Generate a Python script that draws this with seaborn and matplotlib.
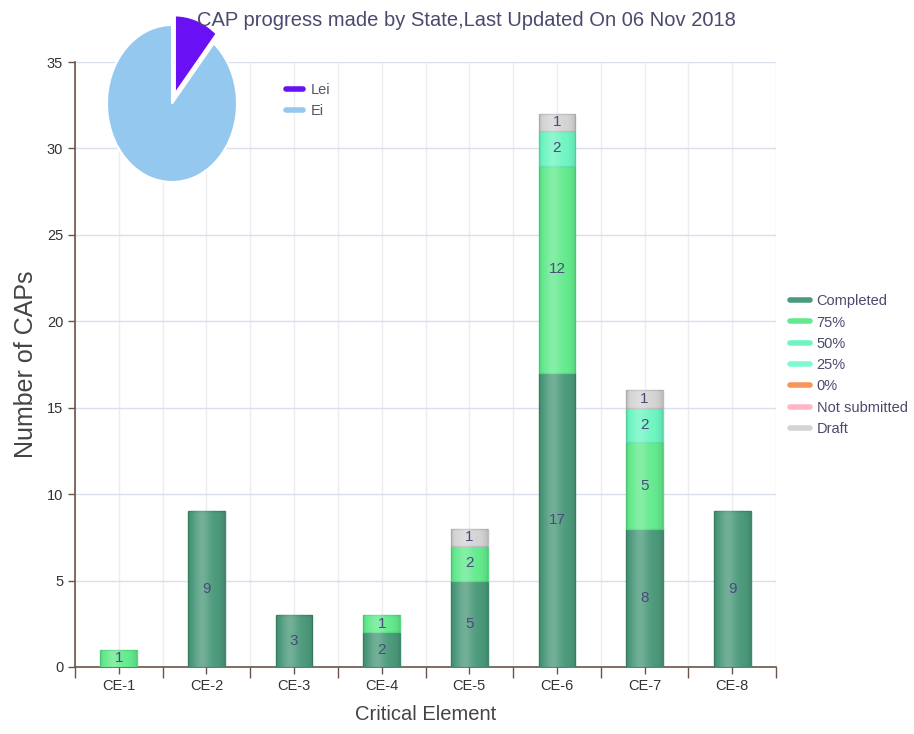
import matplotlib
matplotlib.use("Agg")
import matplotlib.pyplot as plt
from matplotlib.lines import Line2D
from matplotlib.patches import Rectangle
import seaborn as sns
import pandas as pd
import numpy as np

categories = ["CE-1", "CE-2", "CE-3", "CE-4", "CE-5", "CE-6", "CE-7", "CE-8"]
series_names = ["Completed", "75%", "50%", "25%", "0%", "Not submitted", "Draft"]
completed = [0, 9, 3, 2, 5, 17, 8, 9]
pct75 = [1, 0, 0, 1, 2, 12, 5, 0]
pct50 = [0, 0, 0, 0, 0, 2, 2, 0]
pct25 = [0, 0, 0, 0, 0, 0, 0, 0]
pct0 = [0, 0, 0, 0, 0, 0, 0, 0]
not_submitted = [0, 0, 0, 0, 0, 0, 0, 0]
draft = [0, 0, 0, 0, 1, 1, 1, 0]
series_values = [completed, pct75, pct50, pct25, pct0, not_submitted, draft]
series_colors = ["#4c9a7b", "#64ea8e", "#6ef5c2", "#7dfbd0", "#f7965a", "#ffb6c8", "#d4d4d4"]
edge_colors = ["#3e8a6a", "#58d882", "#60e2b2", "#6ce8bd", "#e08040", "#eaa0b0", "#bdbdbd"]

pie_labels = ["Lei", "Ei"]
pie_values = [1, 8]
pie_colors = ["#6a10f5", "#95c8ef"]

title = "CAP progress made by State,Last Updated On 06 Nov 2018"

sns.set_theme(style="white")
plt.rcParams["font.family"] = ["Liberation Sans", "DejaVu Sans"]

W, H = 914, 734
fig = plt.figure(figsize=(W / 100, H / 100), dpi=100)
ax = fig.add_axes([75 / W, 1 - 667 / H, (776 - 75) / W, (667 - 62) / H])

rows = []
for name, vals in zip(series_names, series_values):
    for c, v in zip(categories, vals):
        rows.append({"element": c, "series": name, "value": v})
df = pd.DataFrame(rows)

bottom = np.zeros(len(categories))
label_items = []
for name, col, ec in zip(series_names, series_colors, edge_colors):
    sub = df[df["series"] == name].reset_index(drop=True)
    vals = sub["value"].to_numpy(dtype=float)
    if vals.sum() > 0:
        mask = vals > 0
        sns.barplot(data=sub[mask], x="element", y="value", order=categories,
                    bottom=bottom[mask], color=col, width=0.42, ax=ax,
                    edgecolor=ec, linewidth=1, saturation=1, zorder=3)
        for i, v in enumerate(vals):
            if v > 0:
                label_items.append((i, bottom[i] + v / 2, int(v)))
    bottom += vals

# cylinder-like shading on bars
t = np.linspace(0, 1, 64)
prof = np.exp(-((t - 0.38) / 0.22) ** 2) - 0.45 * (np.abs(t - 0.5) * 2) ** 4
rgba = np.zeros((1, 64, 4))
pos = prof > 0
rgba[0, pos, :3] = 1.0
rgba[0, pos, 3] = prof[pos] * 0.22
rgba[0, ~pos, :3] = 0.0
rgba[0, ~pos, 3] = -prof[~pos] * 0.25
for p in list(ax.patches):
    if isinstance(p, Rectangle) and p.get_height() > 0:
        x0, y0 = p.get_x(), p.get_y()
        im = ax.imshow(rgba, extent=[x0, x0 + p.get_width(), y0, y0 + p.get_height()],
                       aspect="auto", zorder=3.5, interpolation="bilinear")
        im.set_clip_path(p)

for i, y, v in label_items:
    ax.text(i, y, f"{v}", ha="center", va="center", fontsize=11, color="#4a4a7c", zorder=4)

ax.set_xlim(-0.5, len(categories) - 0.5)
ax.set_ylim(0, 35)
ax.set_aspect("auto")
ax.set_yticks(np.arange(0, 36, 5))
ax.set_xticks(range(len(categories)))
ax.set_xticklabels(categories)
ax.set_xticks(np.arange(-0.5, len(categories), 1.0), minor=True)
ax.grid(axis="y", color="#d9dfec", linewidth=1, zorder=0)
ax.grid(axis="x", which="both", color="#ededf0", linewidth=1, zorder=0)
ax.set_axisbelow(True)
for s in ["top", "right"]:
    ax.spines[s].set_visible(False)
for s in ["left", "bottom"]:
    ax.spines[s].set_color("#6b5548")
    ax.spines[s].set_linewidth(1.2)
ax.tick_params(axis="both", which="major", length=5, width=1, color="#6b5548",
               labelsize=10.5, labelcolor="#333333", direction="out", bottom=True, left=True)
ax.tick_params(axis="x", which="minor", length=8, width=1, color="#6b5548", bottom=True)
ax.set_xlabel("Critical Element", fontsize=14.5, color="#444444", labelpad=9)
ax.set_ylabel("Number of CAPs", fontsize=18, color="#444444", labelpad=6)

fig.text(466 / W, 1 - 20 / H, title, ha="center", va="center", fontsize=14.5, color="#4a4a6e")

# Series legend
handles = [Line2D([0], [0], color=c, lw=4) for c in series_colors]
fig.legend(handles, series_names, loc="upper left", bbox_to_anchor=(783 / W, 1 - 287 / H),
           frameon=False, fontsize=10.5, handlelength=1.35, handletextpad=0.45,
           labelspacing=0.5, borderpad=0, labelcolor="#4a4a6e")

# Pie inset (elliptical, as in the reference)
pax = fig.add_axes([107 / W, 1 - 182 / H, 130 / W, 157 / H])
wedges, _ = pax.pie(pie_values, colors=pie_colors, startangle=90, counterclock=False,
                    radius=1.0, explode=[0.13, 0],
                    wedgeprops=dict(linewidth=1.5, edgecolor="white"))
pax.set_aspect("auto")
pax.set_xlim(-1, 1)
pax.set_ylim(-1, 1)
pax.axis("off")
for w in wedges:
    w.set_clip_on(False)

pie_handles = [Line2D([0], [0], color=c, lw=4) for c in pie_colors]
fig.legend(pie_handles, pie_labels, loc="upper left", bbox_to_anchor=(279 / W, 1 - 76 / H),
           frameon=False, fontsize=10.5, handlelength=1.15, handletextpad=0.5,
           labelspacing=0.45, borderpad=0, labelcolor="#555566")

fig.savefig("out.png", dpi=100)
